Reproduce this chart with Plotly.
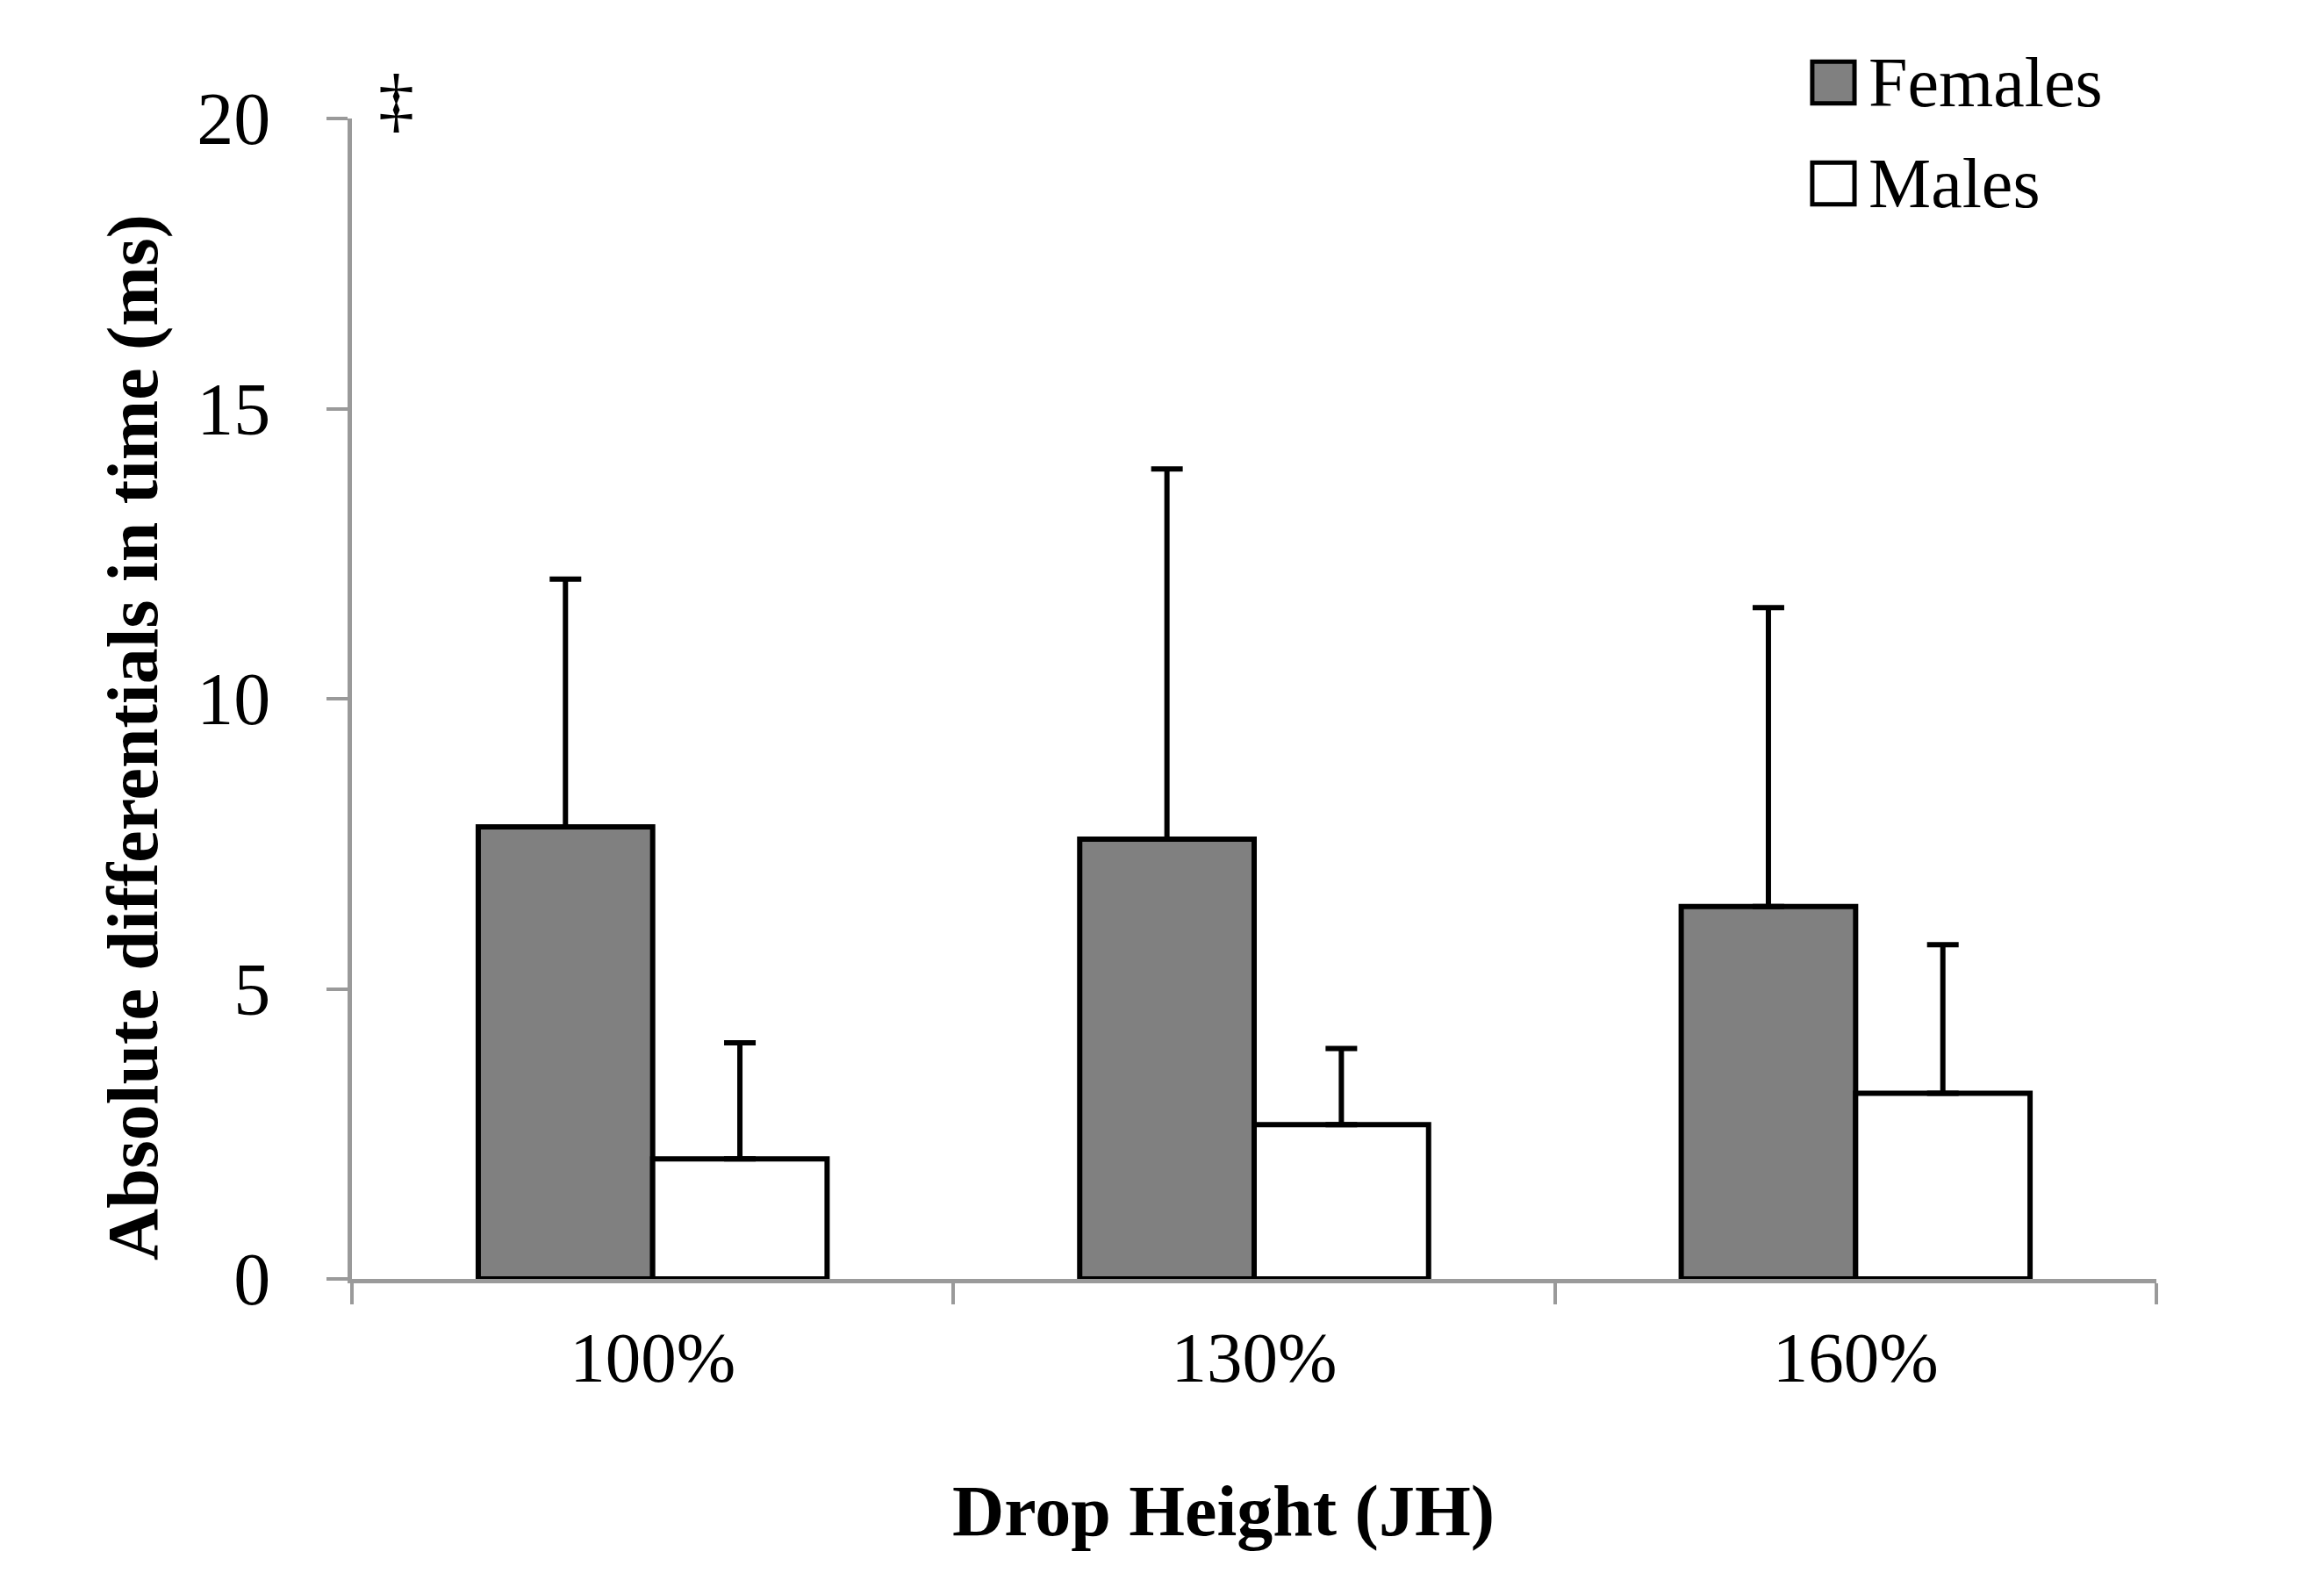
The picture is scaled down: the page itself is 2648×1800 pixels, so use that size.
import plotly.graph_objects as go

categories = ["100%", "130%", "160%"]
females_mean = [7.79, 7.58, 6.42]
females_sd = [4.27, 6.38, 5.15]
males_mean = [2.07, 2.66, 3.20]
males_sd = [2.00, 1.31, 2.56]
y_ticks = [0, 5, 10, 15, 20]
series_names = ["Females", "Males"]
series_fill = ["#808080", "#ffffff"]

FONT = "Liberation Serif"
AXIS_GRAY = "#9a9a9a"

fig = go.Figure()
for name, mean, sd, fill in zip(series_names, [females_mean, males_mean],
                                [females_sd, males_sd], series_fill):
    fig.add_trace(go.Bar(
        x=categories, y=mean, name=name, showlegend=False,
        marker=dict(color=fill, line=dict(color="black", width=6)),
        error_y=dict(type="data", array=sd, arrayminus=[0] * len(sd),
                     symmetric=False, color="black", thickness=6, width=18),
    ))

fig.update_layout(
    width=2648, height=1800,
    margin=dict(l=393, r=199, t=127, b=351),
    paper_bgcolor="white", plot_bgcolor="white",
    barmode="group", bargap=0.42, bargroupgap=0,
    font=dict(family=FONT, color="black", size=80),
    showlegend=False,
)
fig.update_xaxes(
    type="category", showline=True, linecolor=AXIS_GRAY, linewidth=5,
    ticks="outside", tickson="boundaries", ticklen=24, tickwidth=4,
    tickcolor=AXIS_GRAY, showgrid=False, tickfont=dict(size=81, family=FONT),
    ticklabelstandoff=15,
)
fig.update_yaxes(
    range=[0, 20], tickvals=y_ticks, showline=True, linecolor=AXIS_GRAY,
    linewidth=5, ticks="outside", ticklen=24, tickwidth=4, tickcolor=AXIS_GRAY,
    showgrid=False, zeroline=False, tickfont=dict(size=84, family=FONT),
    ticklabelstandoff=47,
)

# axis titles
fig.add_annotation(text="<b>Drop Height (JH)</b>", xref="paper", yref="paper",
                   x=0.483, y=-0.200, xanchor="center", yanchor="middle",
                   showarrow=False, font=dict(size=82, family=FONT))
fig.add_annotation(text="<b>Absolute differentials in time (ms)</b>", xref="paper",
                   yref="paper", x=-0.1214, y=0.467, xanchor="center",
                   yanchor="middle", textangle=-90, showarrow=False,
                   font=dict(size=82, family=FONT))
# significance marker
fig.add_annotation(text="‡", xref="paper", yref="paper", x=0.0248, y=1.016,
                   xanchor="center", yanchor="middle", showarrow=False,
                   font=dict(size=82, family=FONT))

# manual legend
leg_rows = [(1.049, 1.013), (0.962, 0.926)]
for (top, bot), name, fill in zip(leg_rows, series_names, series_fill):
    fig.add_shape(type="rect", xref="paper", yref="paper", x0=0.8093, x1=0.8327,
                  y0=bot, y1=top, fillcolor=fill, line=dict(color="black", width=5))
    fig.add_annotation(text=name, xref="paper", yref="paper", x=0.8395,
                       y=(top + bot) / 2, xanchor="left", yanchor="middle",
                       showarrow=False, font=dict(size=80, family=FONT))

fig.write_html("out.html")
